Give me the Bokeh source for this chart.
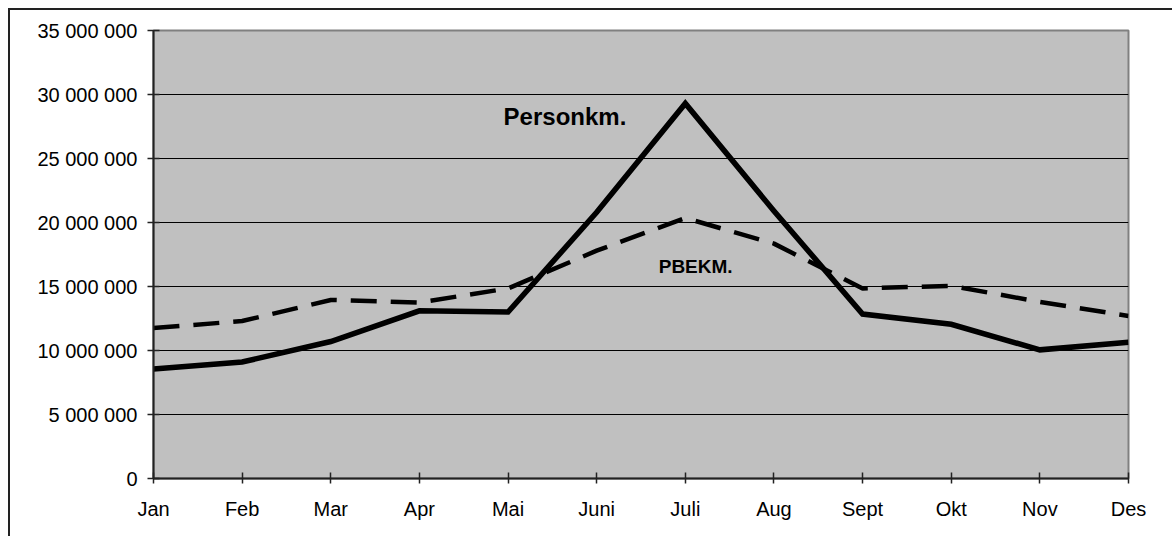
from bokeh.plotting import figure
from bokeh.models import Range1d, FixedTicker, Label, ColumnDataSource
from bokeh.embed import file_html
from bokeh.resources import INLINE

months = ["Jan", "Feb", "Mar", "Apr", "Mai", "Juni", "Juli", "Aug", "Sept", "Okt", "Nov", "Des"]
personkm = [8.55e6, 9.1e6, 10.7e6, 13.1e6, 13.0e6, 20.8e6, 29.3e6, 20.9e6, 12.85e6, 12.05e6, 10.05e6, 10.65e6]
pbekm = [11.75e6, 12.3e6, 13.95e6, 13.75e6, 14.85e6, 17.8e6, 20.35e6, 18.35e6, 14.85e6, 15.05e6, 13.8e6, 12.7e6]
y_ticks = [0, 5e6, 10e6, 15e6, 20e6, 25e6, 30e6, 35e6]
y_tick_labels = ["0", "5 000 000", "10 000 000", "15 000 000",
                 "20 000 000", "25 000 000", "30 000 000", "35 000 000"]
series_labels = ["Personkm.", "PBEKM."]

FONT = "Liberation Sans"
idx = list(range(len(months)))
src = ColumnDataSource(dict(x=idx, p=personkm, b=pbekm))

p = figure(width=1164, height=528, output_backend="svg", toolbar_location=None,
           x_range=Range1d(0, len(months) - 1), y_range=Range1d(0, 35e6),
           min_border_left=143, min_border_top=20, min_border_right=46, min_border_bottom=60,
           styles={"margin-left": "8px", "margin-top": "8px",
                   "border-left": "2px solid #222", "border-top": "2px solid #222"})

p.background_fill_color = "#C0C0C0"
p.border_fill_color = "white"
p.outline_line_color = "#808080"
p.outline_line_width = 2

p.xgrid.grid_line_color = None
p.ygrid.grid_line_color = "black"
p.ygrid.grid_line_width = 1

p.xaxis.ticker = FixedTicker(ticks=idx)
p.xaxis.major_label_overrides = {i: m for i, m in enumerate(months)}
p.yaxis.ticker = FixedTicker(ticks=y_ticks)
p.yaxis.major_label_overrides = {t: l for t, l in zip(y_ticks, y_tick_labels)}

for ax in (p.xaxis[0], p.yaxis[0]):
    ax.axis_line_color = "#222222"
    ax.axis_line_width = 2
    ax.major_tick_line_color = "#222222"
    ax.major_tick_line_width = 1.5
    ax.minor_tick_line_color = None
    ax.major_label_text_font = FONT
    ax.major_label_text_font_size = "20px"
    ax.major_label_text_color = "black"

p.yaxis.major_tick_in = 6
p.yaxis.major_tick_out = 6
p.yaxis.major_label_standoff = 10
p.xaxis.major_tick_in = 6
p.xaxis.major_tick_out = 5
p.xaxis.major_label_standoff = 14

p.line("x", "b", source=src, line_color="black", line_width=4.5, line_dash="26 14")
p.line("x", "p", source=src, line_color="black", line_width=5.5, line_join="miter")

p.add_layout(Label(x=3.95, y=28.25e6, text=series_labels[0], text_font=FONT,
                   text_font_size="24px", text_font_style="bold", text_color="black",
                   text_baseline="alphabetic"))
p.add_layout(Label(x=5.70, y=16.55e6, text=series_labels[1], text_font=FONT,
                   text_font_size="19px", text_font_style="bold", text_color="black",
                   text_baseline="alphabetic"))

open("out.html", "w").write(file_html(p, INLINE))
